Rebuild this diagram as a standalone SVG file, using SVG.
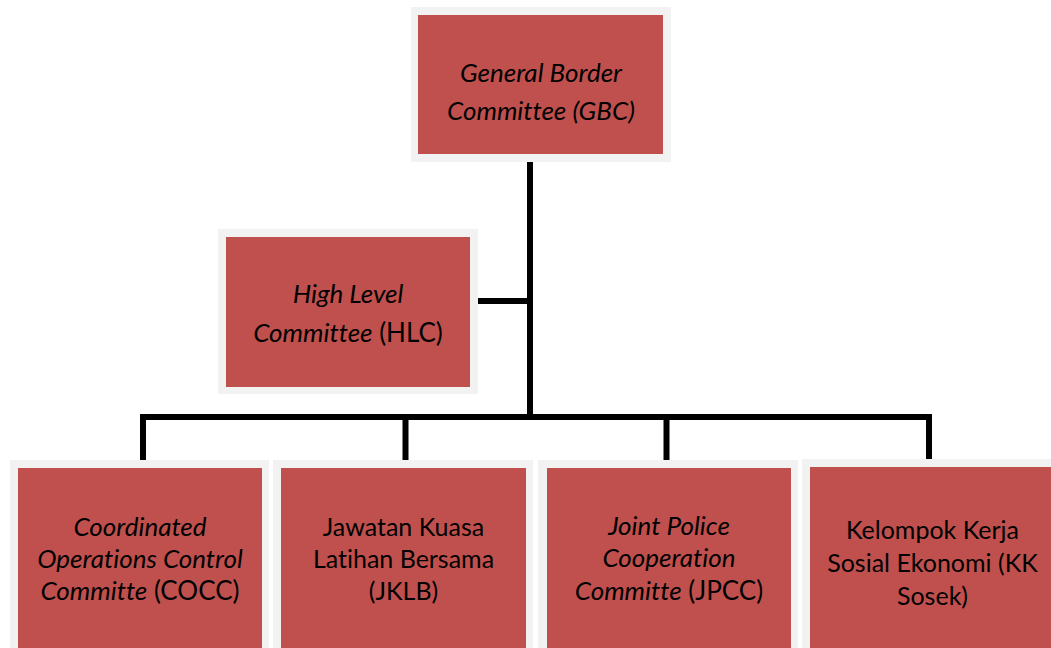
<svg xmlns="http://www.w3.org/2000/svg" width="1051" height="648" viewBox="0 0 1051 648">
<style>
.frame{fill:#F2F2F2}
.box{fill:#C0504D}
.t{font-family:Lato,"Open Sans","Liberation Sans",sans-serif;font-size:26px;fill:#000;text-anchor:middle;font-variant-ligatures:none}
.u{font-size:25px}
.i{font-style:italic}
.conn{fill:none;stroke:#000;stroke-width:6;stroke-linejoin:miter;stroke-linecap:butt}
</style>
<rect width="1051" height="648" fill="#fff"/>
<g id="connectors">
<path class="conn" d="M530,162 V417"/>
<path class="conn" d="M478,301 H530"/>
<path class="conn" d="M143,460 V417 H929 V464"/>
<path class="conn" d="M405.5,417 V464"/>
<path class="conn" d="M666.5,417 V467"/>
</g>
<g id="gbc">
<rect class="frame" x="411" y="7" width="260" height="155"/>
<rect class="box" x="418" y="15" width="245" height="139"/>
<text class="t i" x="541" y="82">General Border</text>
<text class="t i" x="541" y="120">Committee (GBC)</text>
</g>
<g id="hlc">
<rect class="frame" x="218" y="229" width="260" height="165"/>
<rect class="box" x="226" y="237" width="244" height="150"/>
<text class="t i" x="348" y="303">High Level</text>
<text class="t" x="348" y="342"><tspan class="i">Committee</tspan> (HLC)</text>
</g>
<g id="cocc">
<rect class="frame" x="10" y="460" width="259" height="188"/>
<rect class="box" x="18" y="468" width="244" height="180"/>
<text class="t i" x="140" y="536">Coordinated</text>
<text class="t i" x="140" y="568">Operations Control</text>
<text class="t" x="140" y="600"><tspan class="i">Committe</tspan> (COCC)</text>
</g>
<g id="jklb">
<rect class="frame" x="273" y="460" width="260" height="188"/>
<rect class="box" x="281" y="468" width="245" height="180"/>
<text class="t u" x="403.5" y="536">Jawatan Kuasa</text>
<text class="t u" x="403.5" y="568">Latihan Bersama</text>
<text class="t u" x="403.5" y="600">(JKLB)</text>
</g>
<g id="jpcc">
<rect class="frame" x="538" y="460" width="260" height="188"/>
<rect class="box" x="547" y="468" width="244" height="180"/>
<text class="t i" x="669" y="535">Joint Police</text>
<text class="t i" x="669" y="567">Cooperation</text>
<text class="t" x="669" y="600"><tspan class="i">Committe</tspan> (JPCC)</text>
</g>
<g id="kksosek">
<rect class="frame" x="802" y="459" width="260" height="189"/>
<rect class="box" x="810" y="467" width="245" height="181"/>
<text class="t u" x="932.5" y="539">Kelompok Kerja</text>
<text class="t u" x="932.5" y="572">Sosial Ekonomi (KK</text>
<text class="t u" x="932.5" y="605">Sosek)</text>
</g>
</svg>
